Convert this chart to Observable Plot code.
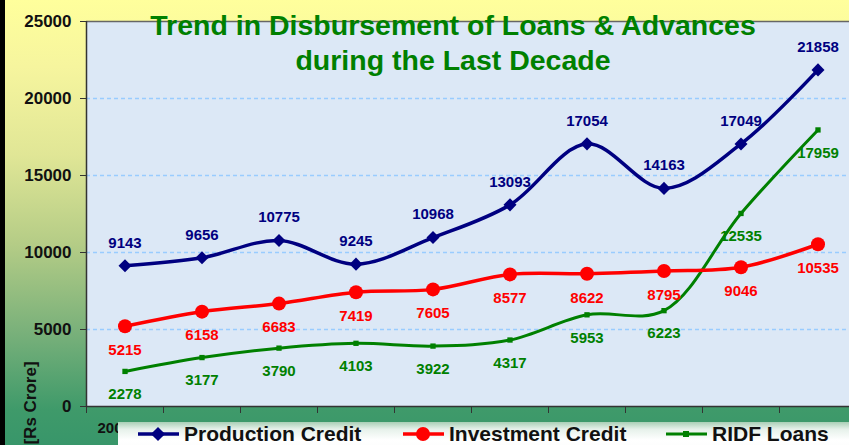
<!DOCTYPE html>
<html>
<head>
<meta charset="utf-8">
<script src="https://cdn.jsdelivr.net/npm/d3@7"></script>
<script src="https://cdn.jsdelivr.net/npm/@observablehq/plot@0.6"></script>
<style>
  html, body { margin: 0; padding: 0; }
  body { width: 849px; height: 445px; overflow: hidden; font-family: "Liberation Sans", Arial, sans-serif; }
  #wrap { position: relative; width: 849px; height: 445px; overflow: hidden;
    background: linear-gradient(to bottom, #ffff9c 0%, #f6f59e 15%, #e0e696 35%, #b4cc86 55%, #78b07a 75%, #3f9a6a 92%, #38966a 100%); }
  #blackbar { position: absolute; left: 0; top: 0; width: 5px; height: 445px; background: #000; }
  #chart { position: absolute; left: 0; top: 0; }
  #title { position: absolute; left: 453px; top: 8px; transform: translateX(-50%); text-align: center; white-space: nowrap;
    color: #008000; font-weight: bold; font-size: 28.5px; line-height: 35px; }
  #ylabel { position: absolute; left: 31px; top: 403px; transform: translate(-50%, -50%) rotate(-90deg); white-space: nowrap;
    font-weight: bold; font-size: 17px; color: #111; }
  #legend { position: absolute; left: 118px; top: 422px; width: 760px; height: 40px;
    background: linear-gradient(to bottom, #a9cfb6 0%, #e6f1ea 18%, #ffffff 45%, #f6faf7 100%); }
  .item { position: absolute; top: 1px; height: 22px; display: flex; align-items: center; }
  .item span { font-weight: bold; font-size: 21px; color: #111; line-height: 22px; margin-left: 5px; }
</style>
</head>
<body>
<div id="wrap">
  <div id="chart"></div>
  <div id="blackbar"></div>
  <div id="title">Trend in Disbursement of Loans &amp; Advances<br>during the Last Decade</div>
  <div id="ylabel">[Rs Crore]</div>
  <div id="legend"></div>
</div>
<script>
const years = ["2000-01", "2001-02", "2002-03", "2003-04", "2004-05", "2005-06", "2006-07", "2007-08", "2008-09", "2009-10"];
const production = [9143, 9656, 10775, 9245, 10968, 13093, 17054, 14163, 17049, 21858];
const investment = [5215, 6158, 6683, 7419, 7605, 8577, 8622, 8795, 9046, 10535];
const ridf = [2278, 3177, 3790, 4103, 3922, 4317, 5953, 6223, 12535, 17959];
const seriesNames = ["Production Credit", "Investment Credit", "RIDF Loans"];
const yTicks = [0, 5000, 10000, 15000, 20000, 25000];

const colors = {"Production Credit": "#000080", "Investment Credit": "#ff0000", "RIDF Loans": "#008000"};

const toRows = (vals, name) => vals.map((v, i) => ({i: i + 0.5, v, name, year: years[i]}));
const prodRows = toRows(production, seriesNames[0]);
const invRows = toRows(investment, seriesNames[1]);
const ridfRows = toRows(ridf, seriesNames[2]);
const boundaries = d3.range(0, years.length + 2);

const FONT = "'Liberation Sans', Arial, sans-serif";
const labelFont = {fontSize: 15, fontWeight: "bold", fontFamily: FONT};

const chart = Plot.plot({
  width: 849,
  height: 445,
  marginLeft: 86,
  marginRight: 0,
  marginTop: 21,
  marginBottom: 39,
  style: {background: "transparent", overflow: "hidden", fontFamily: FONT},
  x: {type: "linear", domain: [0, years.length], range: [86, 856]},
  y: {domain: [0, 25000], range: [406, 21]},
  marks: [
    Plot.frame({fill: "#dce8f6", stroke: null}),
    Plot.ruleY(yTicks.filter(d => d > 0 && d < 25000), {stroke: "#99ccff", strokeWidth: 1.3, strokeDasharray: "4,3"}),
    Plot.ruleY([25000], {stroke: "#666", strokeWidth: 1.5}),
    Plot.ruleY([0], {stroke: "#333", strokeWidth: 1.5}),
    Plot.ruleX([0], {stroke: "#333", strokeWidth: 1.5}),
    Plot.axisY({ticks: yTicks, tickFormat: d => String(d), tickSize: 6, tickPadding: 9, label: null,
      fontSize: 17, fontWeight: "bold", fill: "#111", stroke: "#333"}),
    Plot.axisX({ticks: boundaries, tickFormat: () => "", tickSize: 7, label: null, stroke: "#333"}),
    Plot.text(prodRows, {x: "i", y: 0, text: "year", frameAnchor: "bottom", dy: 26, ...labelFont, fill: "#111"}),
    // lines
    Plot.line(ridfRows, {x: "i", y: "v", stroke: colors["RIDF Loans"], strokeWidth: 3, curve: "catmull-rom"}),
    Plot.line(invRows, {x: "i", y: "v", stroke: colors["Investment Credit"], strokeWidth: 3.5, curve: "catmull-rom"}),
    Plot.line(prodRows, {x: "i", y: "v", stroke: colors["Production Credit"], strokeWidth: 3.5, curve: "catmull-rom"}),
    // markers
    Plot.dot(ridfRows, {x: "i", y: "v", symbol: "square", r: 3, fill: colors["RIDF Loans"]}),
    Plot.dot(invRows, {x: "i", y: "v", symbol: "circle", r: 7, fill: colors["Investment Credit"]}),
    Plot.dot(prodRows, {x: "i", y: "v", symbol: "square", r: 5.2, rotate: 45, fill: colors["Production Credit"]}),
    // labels
    Plot.text(prodRows, {x: "i", y: "v", text: d => String(d.v), dy: -23, fill: colors["Production Credit"], ...labelFont}),
    Plot.text(invRows, {x: "i", y: "v", text: d => String(d.v), dy: 24, fill: colors["Investment Credit"], ...labelFont}),
    Plot.text(ridfRows, {x: "i", y: "v", text: d => String(d.v), dy: 23, fill: colors["RIDF Loans"], ...labelFont})
  ]
});
document.getElementById("chart").appendChild(chart);

// Legend
const legend = document.getElementById("legend");
const offsets = [20, 285, 548];
const markerSvg = {
  "Production Credit": c => `<rect x="15" y="4" width="10" height="10" transform="rotate(45 20 9)" fill="${c}"/>`,
  "Investment Credit": c => `<circle cx="20" cy="9" r="7" fill="${c}"/>`,
  "RIDF Loans": c => `<rect x="17" y="6" width="6" height="6" fill="${c}"/>`
};
seriesNames.forEach((name, k) => {
  const c = colors[name];
  const div = document.createElement("div");
  div.className = "item";
  div.style.left = offsets[k] + "px";
  const sw = name === "RIDF Loans" ? 3 : 3.5;
  div.innerHTML = `<svg width="41" height="18"><line x1="0" x2="41" y1="9" y2="9" stroke="${c}" stroke-width="${sw}"/>${markerSvg[name](c)}</svg><span>${name}</span>`;
  legend.appendChild(div);
});
</script>
</body>
</html>
